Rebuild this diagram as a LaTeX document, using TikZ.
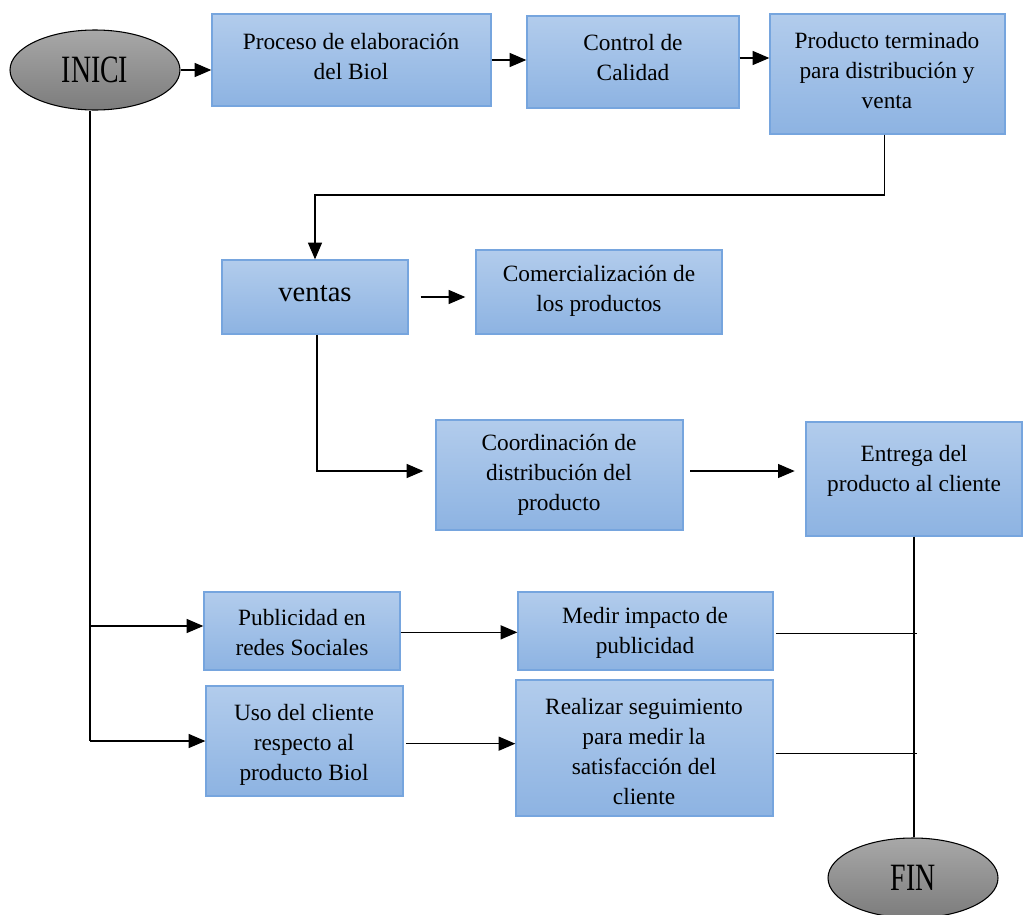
\documentclass[tikz,border=0pt]{standalone}
\usepackage{fontspec}
\setmainfont{Liberation Serif}
\usetikzlibrary{shapes.geometric,arrows.meta,calc}

\definecolor{boxtop}{HTML}{B2CCEC}
\definecolor{boxbot}{HTML}{8DB3E2}
\definecolor{boxline}{HTML}{76A5DE}
\definecolor{ovaltop}{HTML}{A8A8A8}
\definecolor{ovalbot}{HTML}{7C7C7C}

\tikzset{
  stepbox/.style={rectangle, draw=boxline, line width=1pt,
    top color=boxtop, bottom color=boxbot, inner sep=0pt},
  oval/.style={ellipse, draw=black, line width=0.8pt,
    top color=ovaltop, bottom color=ovalbot,
    minimum width=127.5pt, minimum height=60pt, inner sep=0pt,
    font=\fontsize{29}{30}\selectfont},
  txt/.style={align=center, inner sep=0pt, font=\fontsize{17.5}{22.5}\selectfont},
  link/.style={draw=black, line width=0.9pt},
  arr/.style={link, -{Triangle[length=12.5pt,width=10.5pt]}},
}

% box from its pixel corners: name, x1, x2, y1, y2
\newcommand{\procbox}[5]{%
  \node[stepbox, minimum width={(#3-#2)*0.75pt}, minimum height={(#5-#4)*0.75pt}]
    (#1) at ({(#2+#3)/2},{(#4+#5)/2}) {};}

\begin{document}
\begin{tikzpicture}[x=0.75pt, y=-0.75pt]
\useasboundingbox (0,0) rectangle (1024,914);

% start and end
\node[oval] (ini) at (95,70) {\scalebox{0.72}[1]{INICI}};
\node[oval] (fin) at (913,878) {\scalebox{0.72}[1]{FIN}};

% process boxes
\procbox{p1}{212}{491}{14}{106}
\procbox{p2}{527}{739}{16}{108}
\procbox{p3}{770}{1005}{14}{134}
\procbox{ven}{222}{408}{260}{334}
\procbox{com}{476}{722}{250}{334}
\procbox{coo}{436}{683}{420}{530}
\procbox{ent}{806}{1022}{422}{536}
\procbox{pub}{204}{400}{592}{670}
\procbox{med}{518}{773}{592}{670}
\procbox{uso}{206}{403}{686}{796}
\procbox{rea}{516}{773}{680}{816}

% box captions
\node[txt] (tp1) at (351,56) {Proceso de elaboración\\del Biol};
\node[txt] (tp2) at (633,58) {Control de\\Calidad};
\node[txt] (tp3) at (887,71) {Producto terminado\\para distribución y\\venta};
\node[txt, font=\fontsize{21.5}{24}\selectfont] (tven) at (315,294) {ventas};
\node[txt] (tcom) at (599,291) {Comercialización de\\los productos};
\node[txt] (tcoo) at (559,475) {Coordinación de\\distribución del\\producto};
\node[txt] (tent) at (914,471) {Entrega del\\producto al cliente};
\node[txt] (tpub) at (302,633) {Publicidad en\\redes Sociales};
\node[txt] (tmed) at (645,633) {Medir impacto de\\publicidad};
\node[txt] (tuso) at (304,745) {Uso del cliente\\respecto al\\producto Biol};
\node[txt] (trea) at (644,752) {Realizar seguimiento\\para medir la\\satisfacción del\\cliente};

% main production line
\draw[arr] (ini.east) -- (ini.east -| p1.west);
\draw[arr] (p1.east) -- (p1.east -| p2.west);
\draw[arr] ([yshift=3pt]p2.east) -- ([yshift=3pt]p2.east -| p3.west);
\draw[arr] ([xshift=-2pt]p3.south) -- ([xshift=-2pt]p3.south |- 0,195) -| (ven.north);
\draw[arr] ([xshift=9pt]ven.east) -- ([xshift=-7.5pt]ven.east -| com.west);
\draw[arr] ([xshift=1.5pt]ven.south) |- ([xshift=-9pt,yshift=3pt]coo.west);
\draw[arr] ([xshift=5pt,yshift=3pt]coo.east) -- ([xshift=-8pt,yshift=3pt]coo.east -| ent.west);

% trunk from the start down to the follow-up branches
\coordinate (trunk) at ([xshift=-3.75pt]ini.south);
\draw[link] (trunk) -- (trunk |- uso.west);
\draw[arr] (trunk |- 0,626) -- (pub.west |- 0,626);
\draw[arr] (trunk |- uso.west) -- (uso.west);
\draw[arr] ([yshift=-1pt]pub.east) -- ([yshift=-1pt]med.west);
\draw[arr] ([xshift=2pt,yshift=-2pt]uso.east) -- ([yshift=-2pt]uso.east -| rea.west);

% collector towards the end
\coordinate (col) at ([xshift=2pt]ent.south);
\draw[link] (ent.south) -- (ent.south |- fin.north);
\draw[link] ([xshift=2pt,yshift=-2pt]med.east) -- ([yshift=-2pt]med.east -| col);
\draw[link] ([xshift=2pt,yshift=-4pt]rea.east) -- ([yshift=-4pt]rea.east -| col);
\end{tikzpicture}
\end{document}
